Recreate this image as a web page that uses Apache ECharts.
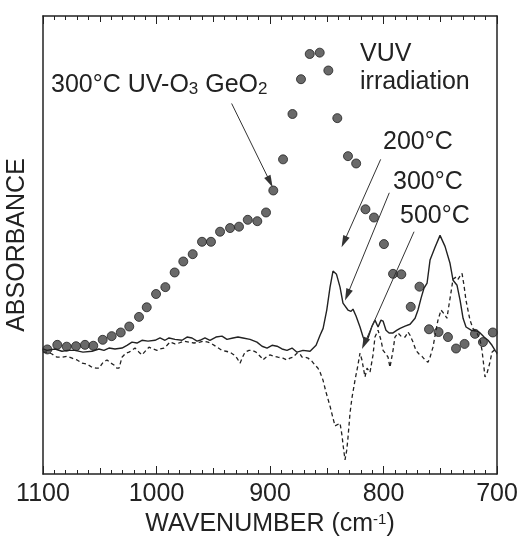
<!DOCTYPE html>
<html>
<head>
<meta charset="utf-8">
<script src="https://cdn.jsdelivr.net/npm/echarts@6/dist/echarts.min.js"></script>
<style>
  html, body { margin: 0; padding: 0; background: #fff; }
  #chart { width: 521px; height: 536px; }
</style>
</head>
<body>
<div id="chart"></div>
<script>
// x tick labels
var xTicks = [1100, 1000, 900, 800, 700];

// 300°C UV-O3 GeO2 (dots)
var dotWn = [1096.2, 1087.4, 1079.1, 1070.9, 1063.0, 1055.7, 1047.4, 1039.5, 1031.5, 1024.0,
  1015.4, 1008.6, 1000.4, 992.2, 984.0, 976.4, 968.1, 959.9, 952.0, 944.0,
  935.2, 927.3, 919.6, 911.2, 903.5, 897.1, 888.5, 880.2, 872.7, 865.0,
  856.2, 848.6, 840.7, 831.3, 824.1, 815.9, 808.4, 799.6, 791.6, 784.3,
  776.0, 768.3, 759.9, 751.5, 743.2, 736.1, 728.6, 719.4, 712.4, 703.7];
var dotAbs = [27.2, 28.2, 27.8, 27.9, 28.2, 28.0, 29.3, 30.1, 30.9, 32.2,
  34.3, 36.4, 39.3, 40.8, 44.0, 46.4, 48.0, 50.7, 50.7, 52.9,
  53.7, 54.0, 55.5, 55.2, 57.1, 61.9, 68.7, 78.6, 86.2, 91.7,
  92.0, 88.1, 77.7, 69.4, 67.8, 57.8, 56.0, 50.2, 43.7, 43.6,
  36.5, 40.9, 31.6, 31.0, 29.9, 27.4, 28.4, 30.6, 28.8, 30.9];

// VUV 200°C (solid)
var solidWn = [1100, 1096.5, 1089.4, 1083.3, 1078.0, 1071.8, 1064.8, 1056.8, 1050.7, 1046.3,
  1041.9, 1036.6, 1030.4, 1026.0, 1021.6, 1017.2, 1012.8, 1007.5, 1001.3, 996.9,
  992.5, 989.0, 983.7, 977.5, 973.1, 968.7, 964.3, 961.7, 957.3, 952.9,
  947.6, 942.3, 937.9, 932.6, 928.2, 923.8, 917.6, 911.5, 907.0, 902.6,
  898.2, 893.8, 889.4, 885.0, 880.6, 876.2, 870.9, 864.7, 859.4, 855.9,
  853.2, 850.0, 847.1, 844.5, 841.4, 838.3, 835.7, 831.3, 828.6, 826.9,
  824.2, 820.7, 818.0, 816.3, 813.6, 810.1, 807.5, 804.8, 802.2, 800.4,
  797.8, 795.1, 791.6, 788.1, 785.4, 781.0, 776.6, 772.2, 769.6, 766.9,
  764.3, 761.6, 759.0, 754.6, 750.2, 745.8, 741.4, 738.7, 735.2, 732.5,
  729.9, 727.3, 722.8, 717.6, 714.9, 711.4, 707.9, 704.4, 701.7, 700];
var solidAbs = [27.3, 27.0, 27.3, 26.8, 27.0, 27.0, 26.6, 26.8, 27.3, 27.0,
  27.5, 27.3, 27.5, 28.1, 28.8, 28.6, 29.2, 29.0, 29.2, 29.7,
  29.2, 29.7, 29.4, 29.2, 29.9, 29.7, 29.0, 29.2, 29.7, 29.2,
  29.9, 30.1, 29.4, 29.7, 29.9, 29.7, 29.4, 28.8, 27.9, 27.5,
  28.1, 27.9, 27.3, 27.0, 27.5, 26.6, 27.0, 26.8, 28.1, 30.3,
  31.8, 35.8, 40.8, 44.3, 43.6, 40.8, 37.3, 35.8, 35.5, 36.0,
  34.5, 32.1, 29.9, 29.0, 29.7, 32.3, 33.6, 32.1, 33.6, 33.4,
  31.4, 30.8, 30.8, 31.4, 31.8, 32.3, 32.7, 34.0, 35.8, 38.4,
  40.6, 41.7, 46.7, 49.5, 52.1, 49.7, 46.0, 42.3, 41.2, 37.9,
  34.0, 32.1, 31.4, 31.2, 30.8, 29.9, 29.2, 28.1, 27.0, 26.4];

// VUV 300°C / 500°C (dashed)
var dashWn = [1100, 1095.6, 1092.1, 1087.7, 1083.3, 1078.9, 1074.4, 1070.0, 1065.6, 1061.2,
  1056.8, 1053.3, 1050.7, 1047.1, 1043.6, 1040.1, 1037.5, 1034.8, 1033.0, 1030.4,
  1026.9, 1024.2, 1021.6, 1018.9, 1015.4, 1012.8, 1009.2, 1006.6, 1003.1, 999.6,
  996.9, 993.4, 990.7, 988.1, 983.7, 980.2, 975.8, 971.4, 967.0, 961.7,
  958.2, 954.6, 951.1, 946.7, 942.3, 938.8, 935.3, 931.7, 929.1, 926.4,
  923.8, 922.0, 918.5, 915.9, 912.3, 910.6, 907.9, 906.2, 903.5, 900.0,
  896.5, 893.0, 888.6, 885.0, 882.4, 879.7, 876.2, 873.6, 871.8, 869.2,
  866.5, 863.0, 860.4, 857.7, 855.9, 853.3, 850.7, 847.1, 844.5, 842.7,
  841.0, 838.3, 836.6, 835.4, 833.9, 832.4, 831.3, 829.5, 827.8, 825.1,
  822.5, 820.7, 819.0, 816.3, 814.5, 813.4, 811.9, 810.4, 809.3, 807.5,
  804.8, 802.2, 800.4, 797.8, 796.0, 794.3, 791.6, 789.9, 787.2, 784.6,
  781.0, 778.4, 776.6, 774.0, 771.4, 768.7, 766.1, 763.4, 760.8, 759.0,
  756.4, 753.7, 752.0, 749.3, 747.6, 745.8, 744.1, 742.3, 740.5, 738.8,
  736.1, 734.4, 732.6, 730.8, 729.1, 727.3, 725.6, 723.8, 721.2, 717.6,
  714.9, 713.2, 711.9, 710.6, 708.8, 706.2, 704.4, 702.6, 700];
var dashAbs = [26.6, 26.6, 26.2, 25.5, 25.5, 25.7, 25.3, 24.9, 24.2, 24.0,
  23.3, 23.1, 23.1, 24.4, 24.9, 24.2, 23.8, 23.1, 23.1, 25.5,
  26.4, 26.6, 27.0, 27.5, 26.6, 26.0, 27.0, 27.7, 27.3, 27.0,
  27.3, 27.5, 28.1, 28.8, 28.4, 28.6, 29.0, 28.8, 28.6, 28.8,
  29.0, 28.8, 28.4, 27.7, 27.0, 26.8, 26.6, 26.0, 25.3, 24.2,
  25.7, 26.6, 27.0, 27.0, 26.6, 26.4, 25.5, 24.9, 25.5, 26.0,
  25.7, 25.5, 25.3, 24.9, 25.3, 25.5, 26.4, 26.2, 25.5, 25.5,
  25.3, 24.6, 23.8, 23.1, 22.2, 20.5, 17.9, 14.8, 12.2, 10.5,
  10.9, 11.1, 8.5, 5.9, 3.1, 5.2, 7.9, 13.3, 16.6, 20.5,
  23.8, 26.4, 24.9, 21.2, 23.1, 23.3, 22.2, 22.0, 25.9, 29.9,
  31.4, 29.2, 27.0, 26.2, 25.5, 23.3, 27.0, 29.9, 30.8, 30.1,
  29.9, 31.0, 30.3, 28.8, 27.0, 26.2, 25.7, 24.9, 24.4, 25.5,
  27.7, 31.4, 33.6, 35.8, 35.8, 34.7, 34.0, 36.9, 39.7, 42.5,
  43.0, 42.5, 43.2, 43.8, 41.2, 37.9, 35.8, 33.6, 31.8, 30.8,
  29.2, 27.0, 24.2, 21.2, 22.0, 24.4, 26.6, 27.0, 26.2];

// arrows: [fromWn, fromAbs, toWn, toAbs]
var arrows = [
  [933.8, 80.9, 900.0, 63.8],
  [802.5, 68.7, 834.8, 50.7],
  [794.9, 61.4, 831.9, 39.1],
  [773.1, 52.9, 816.8, 28.5]
];

function zip(a, b) {
  return a.map(function (v, i) { return [v, b[i]]; });
}

var ink = '#222';
var font = 'Liberation Sans, Arial, sans-serif';
var gridBox = { left: 43, right: 24, top: 16, bottom: 62, outerBoundsMode: 'none' };

// x axis for the frame (bottom / top)
function tickAxis(grid, pos, interval, len, minor, showLabel, showLine) {
  var ax = {
    type: 'value', gridIndex: grid, position: pos, min: 700, max: 1100, inverse: true,
    interval: interval,
    axisLine: { show: showLine, onZero: false, lineStyle: { color: ink, width: 1.5 } },
    axisTick: { show: true, inside: true, length: len, lineStyle: { color: ink, width: 1 } },
    axisLabel: {
      show: showLabel, color: ink, fontSize: 25, fontFamily: font, margin: 8,
      formatter: function (v) { return xTicks.indexOf(v) >= 0 ? String(v) : ''; }
    },
    splitLine: { show: false }
  };
  if (minor) {
    ax.minorTick = { show: true, splitNumber: 10, length: 4, lineStyle: { color: ink, width: 1 } };
  }
  return ax;
}

function plainY(grid, pos, showLine) {
  return {
    type: 'value', gridIndex: grid, min: 0, max: 100, position: pos,
    axisLine: { show: showLine, onZero: false, lineStyle: { color: ink, width: 1.5 } },
    axisTick: { show: false }, axisLabel: { show: false }, splitLine: { show: false }
  };
}

var chart = echarts.init(document.getElementById('chart'));

var xMain = tickAxis(0, 'bottom', 100, 8, true, true, true);
xMain.name = '{a|WAVENUMBER (cm}{s|-1}{a|)}';
xMain.nameLocation = 'middle';
xMain.nameGap = 31;
xMain.nameTextStyle = {
  rich: {
    a: { fontSize: 25, fontFamily: font, color: ink },
    s: { fontSize: 15, fontFamily: font, color: ink, verticalAlign: 'top', padding: [0, 0, 10, 0] }
  }
};

var yMain = plainY(0, 'left', true);
yMain.name = 'ABSORBANCE';
yMain.nameLocation = 'middle';
yMain.nameGap = 13;
yMain.nameRotate = 90;
yMain.nameTextStyle = { fontSize: 25, fontFamily: font, color: ink };

var option = {
  backgroundColor: '#fff',
  animation: false,
  grid: [gridBox, gridBox],
  xAxis: [
    xMain,
    tickAxis(0, 'top', 100, 8, true, false, true),
    tickAxis(1, 'bottom', 50, 6, false, false, false),
    tickAxis(1, 'top', 50, 6, false, false, false)
  ],
  yAxis: [
    yMain,
    plainY(0, 'right', true),
    plainY(1, 'left', false)
  ],
  series: [
    {
      name: 'VUV 200°C', type: 'line', data: zip(solidWn, solidAbs),
      showSymbol: false, symbol: 'none',
      lineStyle: { color: ink, width: 1.4 }
    },
    {
      name: 'VUV 300°C', type: 'line', data: zip(dashWn, dashAbs),
      showSymbol: false, symbol: 'none',
      lineStyle: { color: ink, width: 1.3, type: [4, 3] }
    },
    {
      name: '300°C UV-O3 GeO2', type: 'scatter', data: zip(dotWn, dotAbs),
      symbol: 'circle', symbolSize: 9,
      itemStyle: { color: '#444', borderColor: '#222', borderWidth: 1 },
      markLine: {
        silent: true,
        symbol: ['none', 'triangle'],
        symbolSize: [7, 12],
        label: { show: false },
        lineStyle: { color: '#333', width: 1, type: 'solid' },
        data: arrows.map(function (a) {
          return [{ coord: [a[0], a[1]] }, { coord: [a[2], a[3]] }];
        })
      }
    }
  ],
  graphic: [
    {
      type: 'text', x: 51, y: 85,
      style: {
        text: '{a|300°C UV-O}{s|3}{a| GeO}{s|2}',
        verticalAlign: 'middle',
        rich: {
          a: { fontSize: 25, fontFamily: font, fill: ink, color: ink },
          s: { fontSize: 17, fontFamily: font, fill: ink, color: ink, verticalAlign: 'bottom' }
        }
      }
    },
    { type: 'text', x: 360, y: 54, style: { text: 'VUV', font: '25px ' + font, fill: ink, verticalAlign: 'middle' } },
    { type: 'text', x: 360, y: 82, style: { text: 'irradiation', font: '25px ' + font, fill: ink, verticalAlign: 'middle' } },
    { type: 'text', x: 383, y: 142, style: { text: '200°C', font: '25px ' + font, fill: ink, verticalAlign: 'middle' } },
    { type: 'text', x: 393, y: 182, style: { text: '300°C', font: '25px ' + font, fill: ink, verticalAlign: 'middle' } },
    { type: 'text', x: 400, y: 216, style: { text: '500°C', font: '25px ' + font, fill: ink, verticalAlign: 'middle' } }
  ]
};

chart.setOption(option);
</script>
</body>
</html>
